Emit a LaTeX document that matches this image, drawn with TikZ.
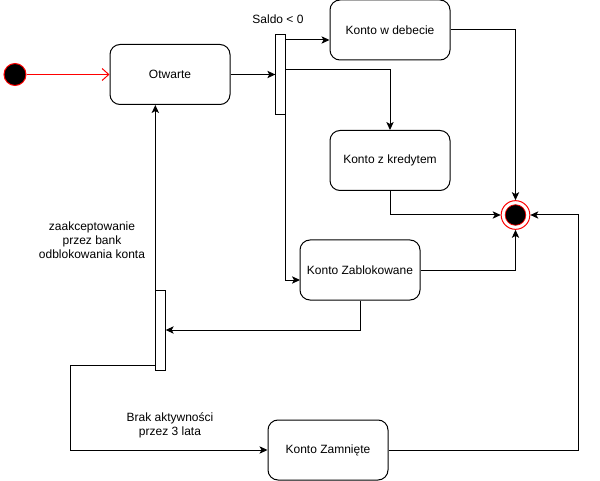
\documentclass[tikz,border=0pt]{standalone}
\usepackage{fontspec}
\setmainfont{Liberation Sans}
\usepackage{tikz}
\usetikzlibrary{calc,positioning,arrows.meta}
\tikzset{
  line/.style={-{Stealth[length=6pt,width=5.5pt,inset=1.5pt]}, line width=0.75pt},
  plain/.style={line width=0.75pt},
  box/.style={draw, line width=0.75pt, rounded corners=7.5pt, align=center, inner sep=2pt},
  statebox/.style={box, minimum width=90pt, minimum height=45pt},
  bar/.style={draw, line width=0.75pt, fill=white, inner sep=0pt, minimum width=7pt, minimum height=60pt},
  lbl/.style={align=center, inner sep=1pt, font=\fontsize{9}{10.5}\selectfont}
}

\begin{document}
\begin{tikzpicture}[x=0.75pt, y=-0.75pt, font=\fontsize{9}{10.5}\selectfont]
  \useasboundingbox (0,0) rectangle (600,481);
  % states
  \node[statebox] (otw) at (170,74.5) {Otwarte};
  \node[statebox] (debet) at (390,30) {Konto w debecie};
  \node[statebox] (kred) at (390,160.5) {Konto z kredytem};
  \node[statebox] (blok) at (360,270) {Konto Zablokowane};
  \node[statebox] (zamk) at (328,450) {Konto Zamnięte};
  % forks
  \node[bar] (forkA) at (280.5,75) {};
  \node[bar] (forkB) at (160.5,330) {};
  % start / end
  \node[circle, draw=red, fill=black, line width=0.75pt, minimum size=16.5pt, inner sep=0pt] (start) at (15,74.5) {};
  \node[circle, draw=red, fill=white, line width=0.75pt, minimum size=21.5pt, inner sep=0pt] (stop) at (515.5,215) {};
  \node[circle, draw=red, fill=black, line width=0.5pt, minimum size=15.5pt, inner sep=0pt] (stopin) at (stop) {};
  % labels
  \node[lbl] (saldo) at (278,19) {Saldo < 0};
  \node[lbl] (akcept) at (92,240) {zaakceptowanie\\przez bank\\odblokowania konta};
  \node[lbl] (brak) at (170,425.5) {Brak aktywności\\przez 3 lata};
  % corners
  \coordinate (a1) at (285,40);
  \coordinate (a2) at (285,70);
  \coordinate (a3) at (300,280);
  \coordinate (b2) at (156,365);
  \coordinate (c1) at (70,365);
  \coordinate (c2) at (578,215);
  % transitions
  \draw[line, red, -{Straight Barb[length=5pt,width=9pt]}] (start) -- (otw);
  \draw[line] (otw) -- (otw -| forkA.west);
  \draw[line] (a1) -- (a1 -| debet.west);
  \draw[line] (a2) -| (kred.north);
  \draw[line] (forkA.south east) |- (a3);
  \draw[line] (debet.east) -| (stop.north);
  \draw[line] (kred.south) |- (stop.west);
  \draw[line] (blok.east) -| (stop.south);
  \draw[line] (blok.south) |- (forkB.east);
  \draw[line] (forkB.north west) -- (forkB.north west |- otw.south);
  \draw[line] (b2) -- (c1) |- (zamk.west);
  \draw[line] (zamk.east) -| (c2) -- (stop.east);
\end{tikzpicture}
\end{document}
